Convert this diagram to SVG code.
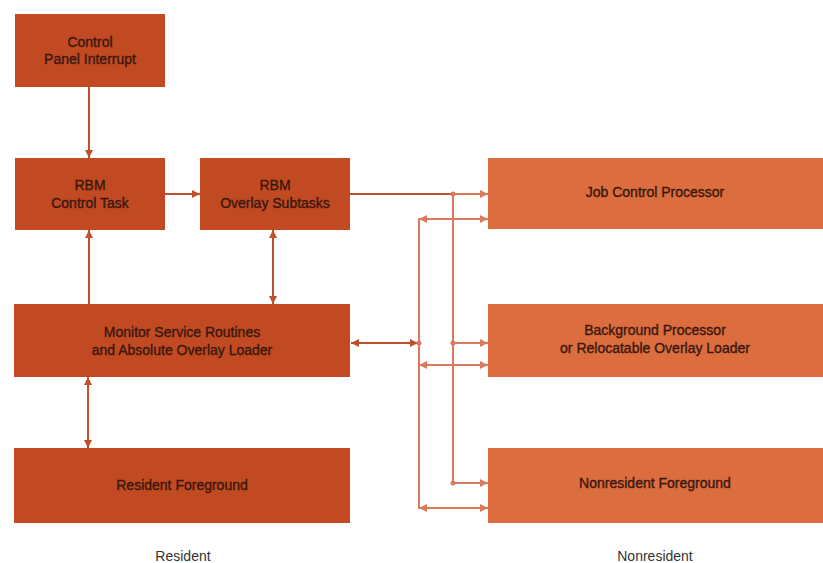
<svg xmlns="http://www.w3.org/2000/svg" width="823" height="563" viewBox="0 0 823 563">
<defs>
<style>
.res{fill:#c24a22;}
.non{fill:#dc6d3e;}
.t{font-family:"Liberation Sans",Arial,sans-serif;font-size:14px;fill:#3a170e;stroke:#3a170e;stroke-width:0.35;text-anchor:middle;}
.lbl{font-family:"Liberation Sans",Arial,sans-serif;font-size:14px;fill:#333;text-anchor:middle;}
.cl{stroke:#c0502a;stroke-width:2;fill:none;}
.cr{stroke:#d97a5c;stroke-width:2;fill:none;}
</style>
<marker id="ad" viewBox="0 0 10 10" refX="10" refY="5" markerWidth="10" markerHeight="8" markerUnits="userSpaceOnUse" orient="auto-start-reverse"><path d="M0,0L10,5L0,10z" fill="#c0502a"/></marker>
<marker id="al" viewBox="0 0 10 10" refX="10" refY="5" markerWidth="10" markerHeight="8" markerUnits="userSpaceOnUse" orient="auto-start-reverse"><path d="M0,0L10,5L0,10z" fill="#d97a5c"/></marker>
</defs>
<rect width="823" height="563" fill="#fff"/>
<g id="cpi"><rect class="res" x="15" y="14" width="150" height="73"/><text class="t" x="90" y="47">Control</text><text class="t" x="90" y="64">Panel Interrupt</text></g>
<g id="rbmct"><rect class="res" x="15" y="158" width="150" height="72"/><text class="t" x="90" y="190">RBM</text><text class="t" x="90" y="208">Control Task</text></g>
<g id="rbmos"><rect class="res" x="200" y="158" width="150" height="72"/><text class="t" x="275" y="190">RBM</text><text class="t" x="275" y="208">Overlay Subtasks</text></g>
<g id="msr"><rect class="res" x="14" y="304" width="336" height="73"/><text class="t" x="182" y="337">Monitor Service Routines</text><text class="t" x="182" y="355">and Absolute Overlay Loader</text></g>
<g id="rf"><rect class="res" x="14" y="448" width="336" height="75"/><text class="t" x="182" y="490">Resident Foreground</text></g>
<g id="jcp"><rect class="non" x="488" y="158" width="335" height="71"/><text class="t" x="655" y="197">Job Control Processor</text></g>
<g id="bp"><rect class="non" x="488" y="304" width="335" height="73"/><text class="t" x="655" y="335">Background Processor</text><text class="t" x="655" y="353">or Relocatable Overlay Loader</text></g>
<g id="nf"><rect class="non" x="488" y="448" width="335" height="75"/><text class="t" x="655" y="488">Nonresident Foreground</text></g>
<g id="labels"><text class="lbl" x="183" y="561">Resident</text><text class="lbl" x="655" y="561">Nonresident</text></g>
<g id="connectors">
<line class="cl" x1="89" y1="87" x2="89" y2="158" marker-end="url(#ad)"/>
<line class="cl" x1="165" y1="194" x2="200" y2="194" marker-end="url(#ad)"/>
<line class="cl" x1="89" y1="304" x2="89" y2="230" marker-end="url(#ad)"/>
<line class="cl" x1="273" y1="230" x2="273" y2="304" marker-start="url(#ad)" marker-end="url(#ad)"/>
<line class="cl" x1="88" y1="377" x2="88" y2="448" marker-start="url(#ad)" marker-end="url(#ad)"/>
<line class="cl" x1="351" y1="343" x2="418" y2="343" marker-start="url(#ad)" marker-end="url(#ad)"/>
<line class="cl" x1="350" y1="194" x2="453" y2="194"/>
<line class="cr" x1="453" y1="194" x2="488" y2="194" marker-end="url(#al)"/>
<line class="cr" x1="453" y1="194" x2="453" y2="483"/>
<line class="cr" x1="453" y1="343" x2="488" y2="343" marker-end="url(#al)"/>
<line class="cr" x1="453" y1="483" x2="488" y2="483" marker-end="url(#al)"/>
<polyline class="cr" points="420,219 419,219 419,508 420,508"/>
<line class="cr" x1="419" y1="219" x2="488" y2="219" marker-start="url(#al)" marker-end="url(#al)"/>
<line class="cr" x1="419" y1="365" x2="488" y2="365" marker-start="url(#al)" marker-end="url(#al)"/>
<line class="cr" x1="419" y1="508" x2="488" y2="508" marker-start="url(#al)" marker-end="url(#al)"/>
<circle cx="453" cy="194" r="2.5" fill="#d97a5c"/>
<circle cx="453" cy="343" r="2.5" fill="#d97a5c"/>
<circle cx="453" cy="483" r="2.5" fill="#d97a5c"/>
<circle cx="419" cy="343" r="2.5" fill="#d97a5c"/>
</g>
</svg>
